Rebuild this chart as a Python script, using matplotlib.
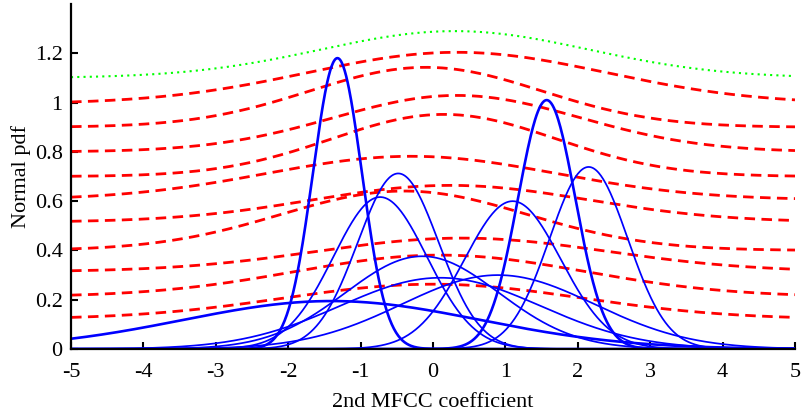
import numpy as np
import matplotlib
matplotlib.use("Agg")
import matplotlib.pyplot as plt

# Blue: normal pdf components (mean, std, thick?)
blue_means = [-1.32, 1.57, 2.15, -0.48, -0.73, 1.1, -0.15, 0.1, 0.9, -1.4]
blue_stds = [0.338, 0.395, 0.54, 0.56, 0.647, 0.665, 1.06, 1.38, 1.33, 2.05]
blue_thick = [True, True, False, False, False, False, False, False, False, True]

# Red dashed: offset + amplitude * exp(-(x-mean)^2 / (2 std^2))
red_base = [0.995, 0.90, 0.80, 0.70, 0.605, 0.515, 0.40, 0.314, 0.212, 0.121]
red_amp = [0.209, 0.243, 0.229, 0.252, 0.177, 0.149, 0.241, 0.136, 0.169, 0.142]
red_mean = [0.33, -0.1, 0.33, 0.15, -0.3, 0.24, -0.4, 0.4, 0.1, 0.0]
red_std = [2.06, 1.6, 1.7, 1.55, 2.0, 1.9, 1.7, 2.0, 2.0, 2.05]

# Green dotted
green_base, green_amp, green_mean, green_std = 1.10, 0.19, 0.3, 1.85

xticks = [-5, -4, -3, -2, -1, 0, 1, 2, 3, 4, 5]
yticks = [0, 0.2, 0.4, 0.6, 0.8, 1.0, 1.2]
yticklabels = ["0", "0.2", "0.4", "0.6", "0.8", "1", "1.2"]

plt.rcParams['font.family'] = ['Liberation Serif', 'DejaVu Serif']
plt.rcParams['axes.unicode_minus'] = False

fig = plt.figure(figsize=(8.06, 4.15), dpi=100)
ax = fig.add_axes([71/806, 66/415, (795-71)/806, (349-4)/415])

x = np.linspace(-5, 5, 1001)

for b, a, m, s in zip(red_base, red_amp, red_mean, red_std):
    ax.plot(x, b + a*np.exp(-(x-m)**2/(2*s**2)), color='#ff0000', lw=2.0,
            dashes=(3.8, 2.3))

ax.plot(x, green_base + green_amp*np.exp(-(x-green_mean)**2/(2*green_std**2)),
        color='#00ff00', lw=1.5, dashes=(1.0, 2.0))

for m, s, t in zip(blue_means, blue_stds, blue_thick):
    y = np.exp(-(x-m)**2/(2*s**2))/(s*np.sqrt(2*np.pi))
    ax.plot(x, y, color='#0000ff', lw=1.9 if t else 1.25)

ax.set_xlim(-5, 5)
ax.set_ylim(0, 1.4)
ax.set_xticks(xticks)
ax.set_xticklabels([str(v) for v in xticks])
ax.set_yticks(yticks)
ax.set_yticklabels(yticklabels)
ax.spines['top'].set_visible(False)
ax.spines['right'].set_visible(False)
for sp in ('left', 'bottom'):
    ax.spines[sp].set_linewidth(1.6)
ax.tick_params(direction='in', length=5, width=1.5, labelsize=16)
ax.tick_params(axis='x', pad=10)
ax.tick_params(axis='y', pad=6)
ax.set_xlabel("2nd MFCC coefficient", fontsize=16, labelpad=8)
ax.set_ylabel("Normal pdf", fontsize=16, labelpad=3)

fig.savefig("out.png", dpi=100)
